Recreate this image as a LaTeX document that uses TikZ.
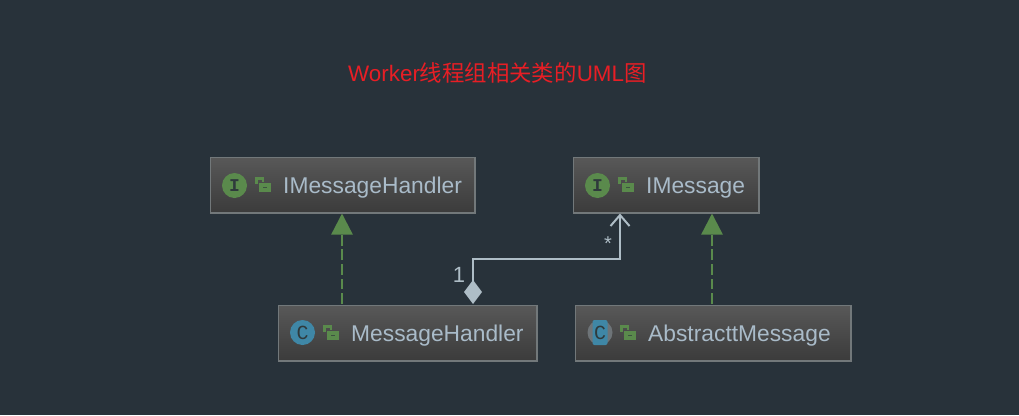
\documentclass[tikz,border=0pt]{standalone}
\usepackage{fontspec}
\setmainfont{Liberation Sans}
\newfontfamily\cjk{Noto Sans CJK SC}
\newfontfamily\glyphfont{Liberation Mono}[BoldFont={Liberation Mono Bold}]
\usetikzlibrary{arrows.meta}
\definecolor{bgc}{HTML}{28323A}
\definecolor{boxtop}{HTML}{585858}
\definecolor{boxbot}{HTML}{3B3B3B}
\definecolor{boxline}{HTML}{72787A}
\definecolor{labelc}{HTML}{A9BBC9}
\definecolor{titlec}{HTML}{E81E25}
\definecolor{greenc}{HTML}{5A8A4C}
\definecolor{bluec}{HTML}{3F87A6}
\definecolor{grayc}{HTML}{6E7478}
\definecolor{glyphc}{HTML}{2F3A3C}
\definecolor{assocc}{HTML}{AEBDC6}
\tikzset{
  x=1pt,y=-1pt,
  classbox/.style={draw=boxline,line width=1.4pt,top color=boxtop,bottom color=boxbot,inner sep=0pt,anchor=north west},
  classname/.style={anchor=base west,inner sep=0pt,text=labelc,font=\fontsize{22.8pt}{24pt}\selectfont},
  iconI/.style={circle,fill=greenc,minimum size=25pt,inner sep=0pt,text=glyphc,font=\fontsize{18pt}{18pt}\glyphfont\bfseries},
  iconC/.style={circle,fill=bluec,minimum size=25pt,inner sep=0pt,text=glyphc,font=\fontsize{20pt}{20pt}\glyphfont},
  realize/.style={draw=greenc,line width=2.4pt,dash pattern=on 10.8pt off 3.8pt,-{Triangle[length=21pt,width=21pt,fill=greenc]}},
  assoc/.style={draw=assocc,line width=2.2pt,{Diamond[length=24pt,width=18pt,fill=assocc,sep=0pt]}-{Straight Barb[length=11pt,width=19pt,line width=2pt]}},
  mult/.style={inner sep=0pt,text=assocc},
}
\newcommand{\lockicon}[2]{%
  \begin{scope}[shift={(#1,#2)}]
    \draw[greenc,line width=2.2pt] (1,6) -- (1,1) -- (7.5,1) -- (7.5,4);
    \fill[greenc] (3.5,5) rectangle (15.5,14.5);
    \fill[glyphc!70!greenc] (7.5,9) rectangle (11.5,10.8);
  \end{scope}}
\begin{document}
\begin{tikzpicture}
\fill[bgc] (0,0) rectangle (1019,415);
\useasboundingbox (0,0) rectangle (1019,415);

\node[anchor=base west,inner sep=0pt,text=titlec,font=\fontsize{22.4pt}{24pt}\selectfont] (title) at (348,81) {Worker{\cjk 线程组相关类的}UML{\cjk 图}};

\node[classbox,minimum width=264.6pt,minimum height=55.6pt] (imh) at (209.7,156.7) {};
\node[classbox,minimum width=185.6pt,minimum height=55.6pt] (im) at (572.7,156.7) {};
\node[classbox,minimum width=258.6pt,minimum height=55.6pt] (mh) at (277.7,304.7) {};
\node[classbox,minimum width=275.6pt,minimum height=55.6pt] (am) at (574.7,304.7) {};

\node[iconI] (imhI) at (234.5,185.5) {I};
\node[iconI] (imI) at (597.5,185.5) {I};
\node[iconC] (mhC) at (302.5,332.5) {C};
\fill[grayc] (600,332.5) circle (12.5pt);
\fill[bluec,rounded corners=2pt] (592.5,320) rectangle (607.5,345);
\node[inner sep=0pt,text=glyphc,font=\fontsize{20pt}{20pt}\glyphfont] (amC) at (600,332.5) {C};

\lockicon{255.5}{177.5}
\lockicon{618.5}{177.5}
\lockicon{323.5}{325.5}
\lockicon{620.5}{325.5}

\node[classname] (imhT) at (283,193.5) {IMessageHandler};
\node[classname] (imT) at (646,193.5) {IMessage};
\node[classname] (mhT) at (351,341.5) {MessageHandler};
\node[classname] (amT) at (648,341.5) {AbstracttMessage};

\coordinate (r1s) at (342,304);
\coordinate (r1e) at (342,213.5);
\coordinate (r2s) at (712,304);
\coordinate (r2e) at (712,213.5);
\draw[realize] (r1s) -- (r1e);
\draw[realize] (r2s) -- (r2e);

\coordinate (as) at (473,304);
\coordinate (ae) at (620,213.5);
\draw[assoc] (as) -- (473,259) -- (620,259) -- (ae);

\node[mult,font=\fontsize{22pt}{22pt}\selectfont] (one) at (459,275) {1};
\node[mult,font=\fontsize{20pt}{20pt}\selectfont] (star) at (608,244) {*};
\end{tikzpicture}
\end{document}
